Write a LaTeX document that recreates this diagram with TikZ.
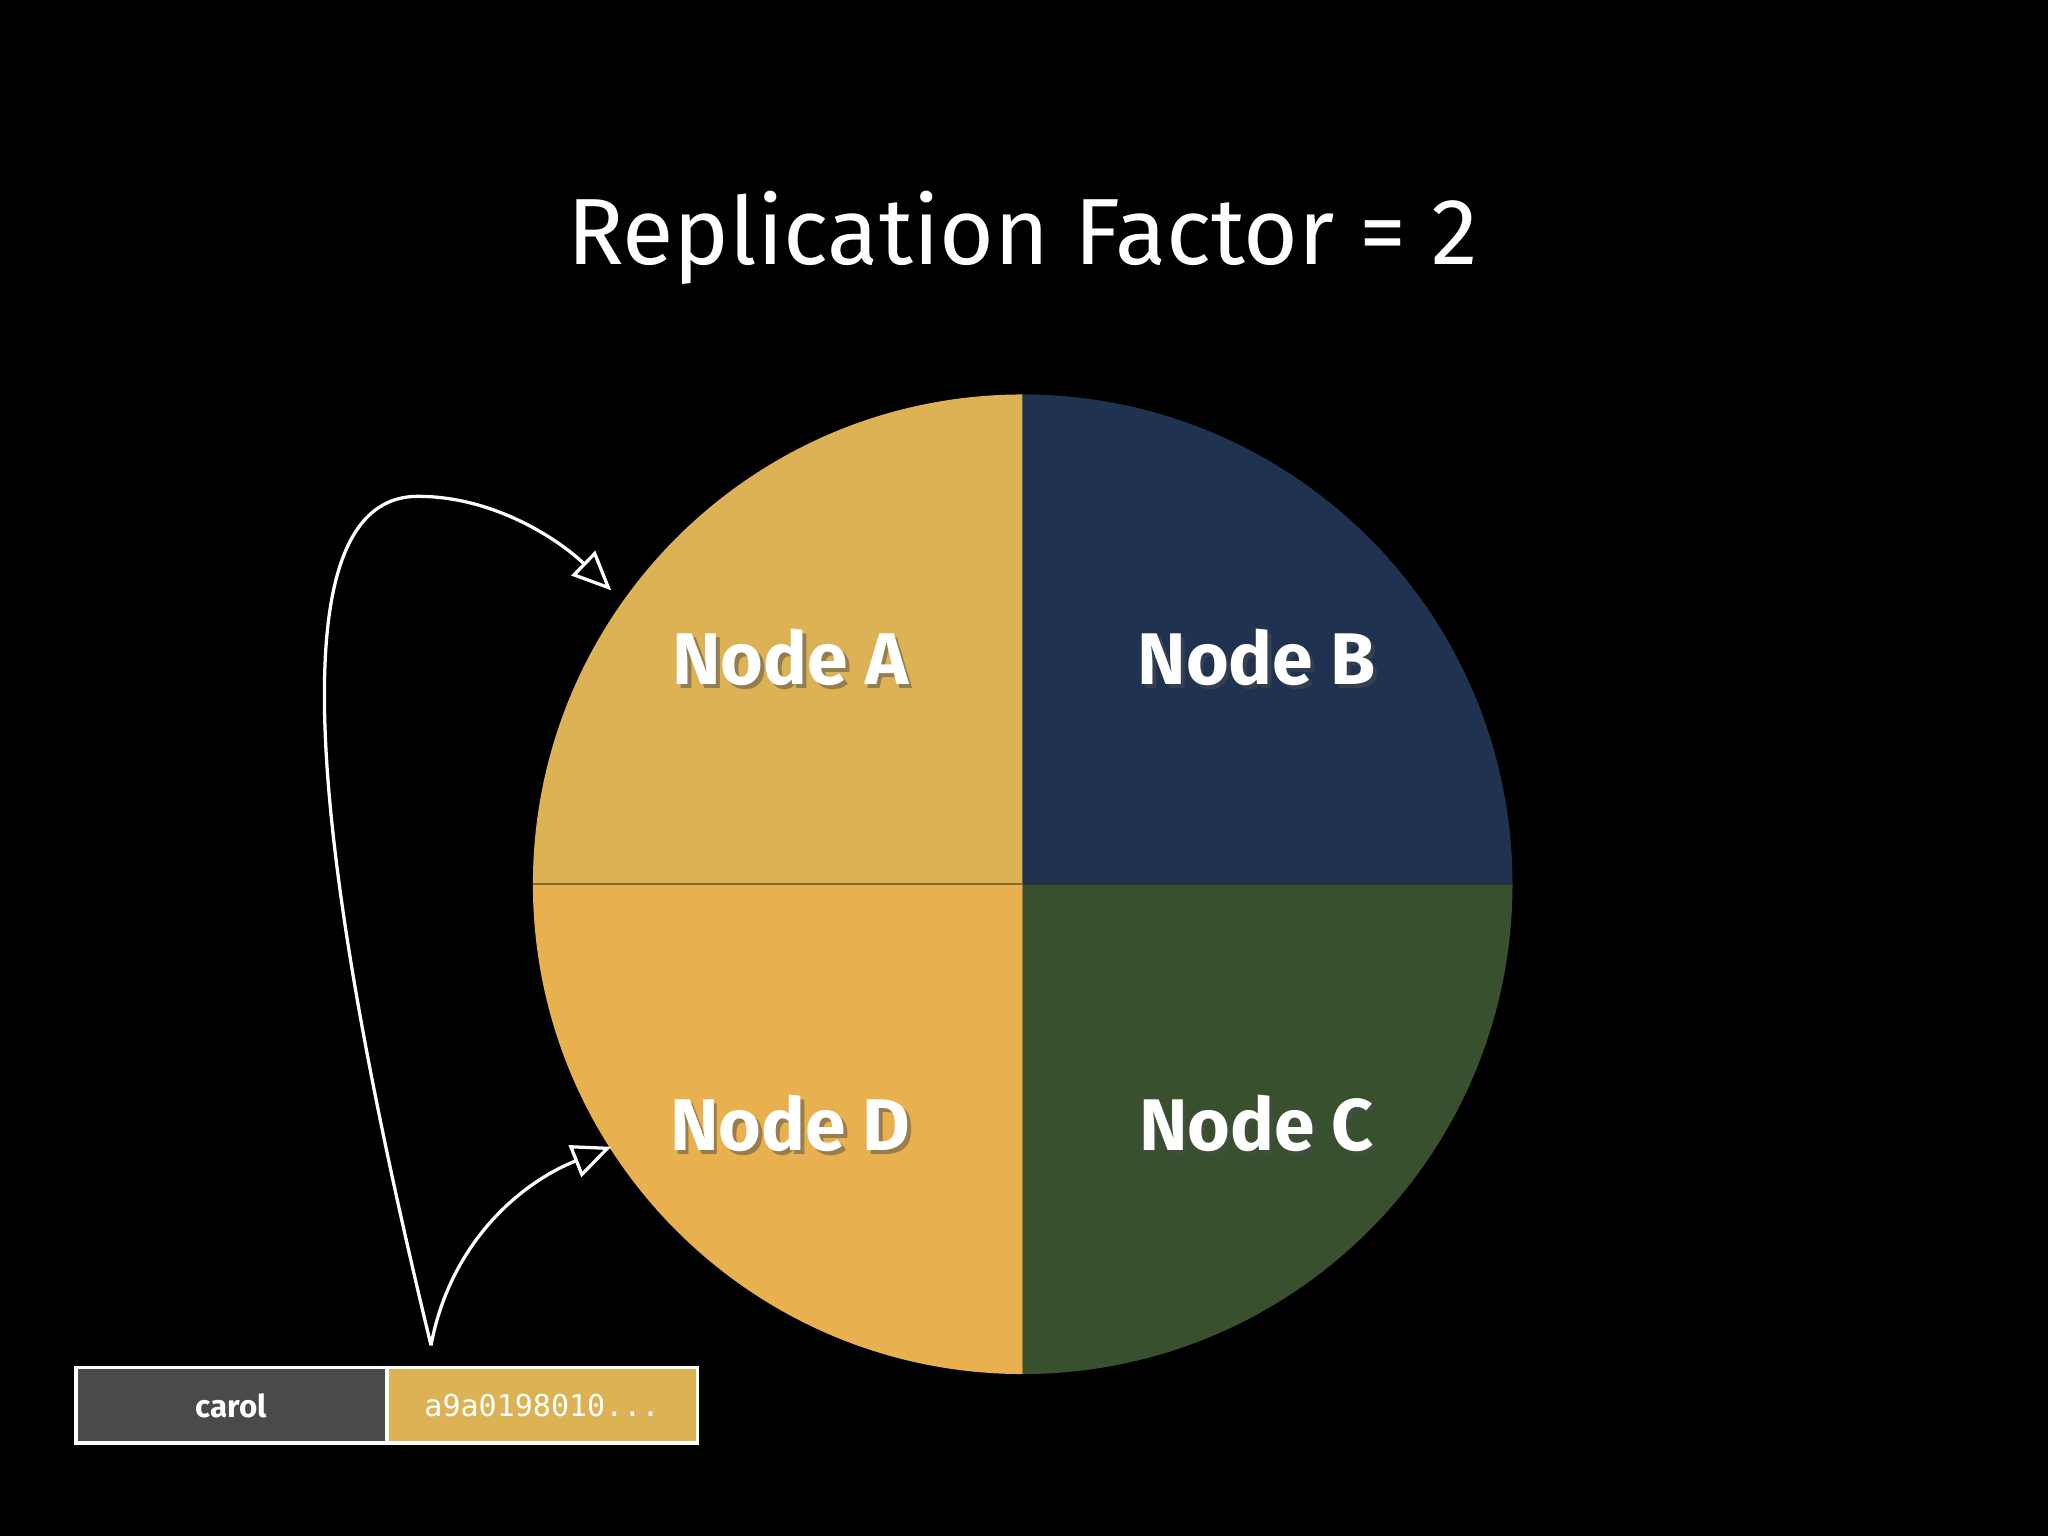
\documentclass[tikz,border=0pt]{standalone}
\usepackage{fontspec}
\setmainfont{Fira Sans}
\newfontfamily\monof{DejaVu Sans Mono}
\usetikzlibrary{arrows.meta,shadows}
\definecolor{qa}{HTML}{DDB254}
\definecolor{qb}{HTML}{1F3350}
\definecolor{qc}{HTML}{38502E}
\definecolor{qd}{HTML}{E8B04F}
\definecolor{keyc}{HTML}{4A4A4A}
\begin{document}
\begin{tikzpicture}[x=1pt,y=-1pt,
  lbl/.style={text=white,font=\fontsize{56}{60}\selectfont\bfseries},
  lblsh/.style={text=black!70,font=\fontsize{56}{60}\selectfont\bfseries,opacity=0.5},
  cell/.style={draw=white,line width=3pt,minimum width=238pt,minimum height=58pt,inner sep=0pt,text=white},
  hand/.style={draw=white,line width=2.5pt,-{Triangle[open,length=30pt,width=26pt,line width=2.5pt]}}]
\fill[black] (0,0) rectangle (1568,1176);
\useasboundingbox (0,0) rectangle (1568,1176);
\coordinate (o) at (783,677);
\fill[qa] (o) -- (408,677) arc[start angle=180,end angle=270,radius=375] -- cycle;
\fill[qb] (o) -- (783,302) arc[start angle=270,end angle=360,radius=375] -- cycle;
\fill[qc] (o) -- (1158,677) arc[start angle=0,end angle=90,radius=375] -- cycle;
\fill[qd] (o) -- (783,1052) arc[start angle=90,end angle=180,radius=375] -- cycle;
\draw[black!40!qa,line width=1.5pt] (408,677) -- (783,677);
\node[font=\fontsize{72}{80}\selectfont,text=white] (title) at (783,182) {Replication Factor = 2};
\foreach \n/\t/\x/\y in {na/Node A/605/503, nb/Node B/962/503, nc/Node C/962/860, nd/Node D/605/860}{
  \node[lblsh] at (\x+3,\y+3) {\t};
  \node[lbl] (\n) at (\x,\y) {\t};
}
\node[cell,fill=keyc,font=\fontsize{24}{26}\selectfont\bfseries] (key) at (177,1076) {carol};
\node[cell,fill=qa,font=\monof\fontsize{23}{26}\selectfont] (hash) at (415,1076) {a9a0198010...};
\coordinate (src) at (330,1030);
\coordinate (ta) at (468,452);
\coordinate (td) at (468,878);
\draw[hand] (src) .. controls (250,700) and (200,380) .. (320,380) .. controls (380,380) and (430,415) .. (ta);
\draw[hand] (src) .. controls (345,950) and (400,905) .. (td);
\end{tikzpicture}
\end{document}
